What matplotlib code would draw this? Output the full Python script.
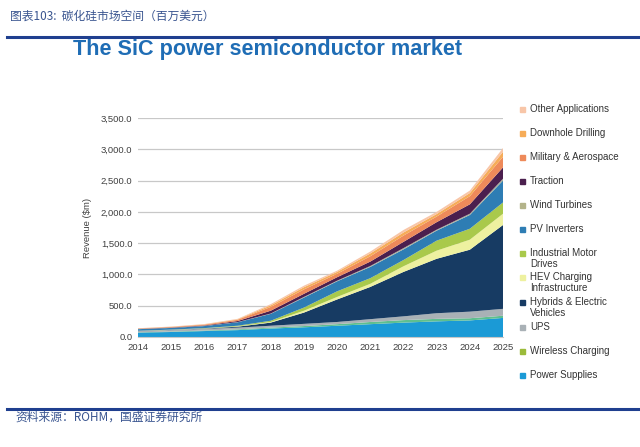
import numpy as np
import matplotlib
matplotlib.use("Agg")
import matplotlib.pyplot as plt
from matplotlib.patches import Rectangle
from matplotlib.ticker import FuncFormatter

plt.rcParams['font.family'] = ['Liberation Sans', 'Noto Sans CJK SC', 'DejaVu Sans']

years = np.arange(2014, 2026)

# revenue per segment ($m)
power_supplies = [70, 80, 95, 110, 135, 155, 180, 205, 230, 250, 265, 305]
wireless_charging = [5, 7, 8, 12, 15, 20, 25, 35, 40, 40, 35, 35]
ups = [20, 23, 27, 28, 30, 35, 35, 45, 60, 90, 105, 110]
hybrids_ev = [2, 3, 5, 15, 50, 180, 360, 515, 710, 870, 990, 1340]
hev_charging = [1, 2, 2, 5, 10, 30, 40, 50, 90, 130, 160, 180]
industrial_motor = [2, 3, 5, 10, 20, 50, 90, 90, 100, 160, 175, 180]
pv_inverters = [25, 27, 33, 55, 110, 160, 160, 180, 170, 160, 220, 350]
wind_turbines = [2, 2, 3, 3, 5, 10, 10, 15, 20, 15, 20, 30]
traction = [3, 5, 7, 17, 45, 50, 55, 70, 100, 120, 150, 180]
military = [5, 8, 12, 20, 60, 70, 55, 85, 100, 90, 130, 170]
downhole = [2, 3, 5, 7, 25, 35, 30, 45, 50, 40, 50, 80]
other_apps = [3, 4, 5, 8, 20, 25, 20, 30, 40, 35, 40, 60]

series = [power_supplies, wireless_charging, ups, hybrids_ev, hev_charging,
          industrial_motor, pv_inverters, wind_turbines, traction, military,
          downhole, other_apps]
labels = ["Power Supplies", "Wireless Charging", "UPS", "Hybrids & Electric\nVehicles",
          "HEV Charging\nInfrastructure", "Industrial Motor\nDrives", "PV Inverters",
          "Wind Turbines", "Traction", "Military & Aerospace", "Downhole Drilling",
          "Other Applications"]
colors = ["#1b9ad6", "#5fbf8f", "#a9b1b6", "#173b63", "#eef1a0", "#a9c94b",
          "#2e7db4", "#a8b09a", "#4b1f4e", "#ee8a5a", "#f6ac58", "#f8c6a8"]
legend_colors = ["#1b9ad6", "#9bbb3a", "#a9b1b6", "#173b63", "#eef1a0", "#a9c94b",
                 "#2e7db4", "#b3b38a", "#4b1f4e", "#ee8a5a", "#f6ac58", "#f8c6a8"]

W, H = 640, 447
fig = plt.figure(figsize=(6.4, 4.47), dpi=100)

# header
fig.text(10 / W, 1 - 16 / H, "图表103:  碳化硅市场空间（百万美元）", fontsize=8.5,
         style='italic', color="#3a5590", va='center', ha='left',
         family=['Noto Sans CJK SC', 'DejaVu Sans'])
fig.add_artist(plt.Line2D([7 / W, 1], [1 - 37 / H] * 2, color="#1f3f8f", lw=2.2))
fig.add_artist(plt.Line2D([7 / W, 1], [1 - 409 / H] * 2, color="#1f3f8f", lw=2.2))
fig.text(15 / W, 1 - 417 / H, "资料来源：ROHM，国盛证券研究所", fontsize=8.5,
         style='italic', color="#3a5590", va='center', ha='left',
         family=['Noto Sans CJK SC', 'DejaVu Sans'])

fig.text(73 / W, 1 - 50 / H, "The SiC power semiconductor market", fontsize=15.6,
         fontweight='bold', color="#1f6db5", va='center', ha='left')

ax = fig.add_axes([138 / W, 1 - 337 / H, (503 - 138) / W, (337 - 118) / H])
ax.stackplot(years, *series, colors=colors, linewidth=0)
ax.set_xlim(2014, 2025)
ax.set_ylim(0, 3500)
ax.set_yticks(np.arange(0, 3501, 500))
ax.yaxis.set_major_formatter(FuncFormatter(lambda v, p: f"{v:,.1f}"))
ax.set_xticks(years)
ax.grid(axis='y', color="#c8c8c8", lw=0.9)
ax.set_axisbelow(True)
for s in ["top", "right", "left"]:
    ax.spines[s].set_visible(False)
ax.spines["bottom"].set_color("#c8c8c8")
ax.tick_params(length=0, labelsize=6.8, colors="#404040", pad=4)
ax.set_ylabel("Revenue ($m)", fontsize=6.8, color="#404040", labelpad=6)

# legend drawn by hand to match the uneven spacing
leg_y = [376, 352, 328, 303, 278, 254, 230, 206, 182, 158, 134, 110]
for lab, col, y in zip(labels, legend_colors, leg_y):
    fig.add_artist(Rectangle((520 / W, 1 - (y + 1.5) / H), 5 / W, 5 / H,
                             color=col, transform=fig.transFigure))
    fig.text(530 / W, 1 - (y - 6) / H, lab, fontsize=7, color="#333333",
             va='top', ha='left', linespacing=1.15)

fig.savefig("out.png", dpi=100)
